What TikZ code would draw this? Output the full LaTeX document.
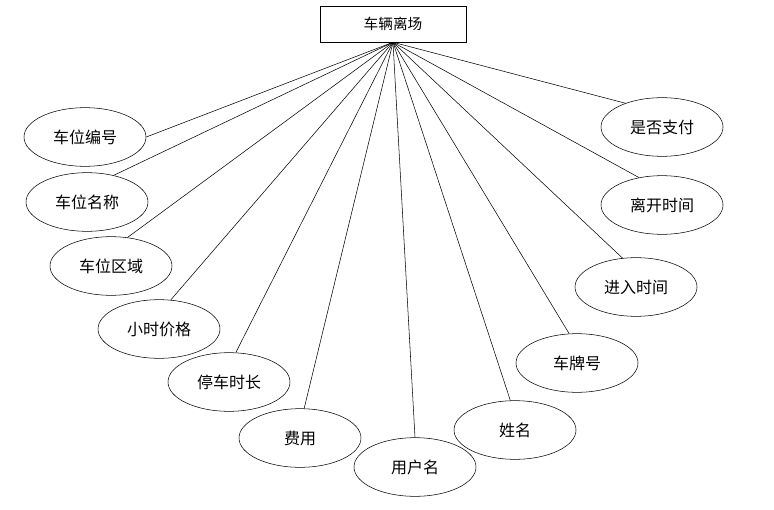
\documentclass[tikz,border=0pt]{standalone}
\usepackage{fontspec}
\newfontfamily\cjk{Noto Sans CJK SC}
\tikzset{
  attr/.style={draw,ellipse,minimum width=91.5pt,minimum height=44pt,inner sep=0pt,font=\cjk\fontsize{12}{14}\selectfont},
  entity/.style={draw,rectangle,minimum width=109.5pt,minimum height=27pt,inner sep=0pt,font=\cjk\fontsize{11}{13}\selectfont}
}
\usetikzlibrary{shapes.geometric}
\begin{document}
\begin{tikzpicture}[x=0.75pt,y=-0.75pt]
        \useasboundingbox (0,0) rectangle (774,510);
        \node[entity] (car) at (393,24) {车辆离场};
        \node[attr] (pno) at (85,137) {车位编号};
        \node[attr] (pname) at (87,202) {车位名称};
        \node[attr] (parea) at (111,266) {车位区域};
        \node[attr] (price) at (159,329) {小时价格};
        \node[attr] (dur) at (229,382) {停车时长};
        \node[attr] (fee) at (300,438) {费用};
        \node[attr] (user) at (415,467) {用户名};
        \node[attr] (name) at (515,430) {姓名};
        \node[attr] (plate) at (577,363) {车牌号};
        \node[attr] (tin) at (636,287) {进入时间};
        \node[attr] (tout) at (662,205) {离开时间};
        \node[attr] (paid) at (662,127) {是否支付};
        \draw (car.south) -- (pno.0);
        \draw (car.south) -- (pname.45);
        \draw (car.south) -- (parea.60);
        \draw (car.south) -- (price.68);
        \draw (car.south) -- (dur.77);
        \draw (car.south) -- (fee.82);
        \draw (car.south) -- (user.90);
        \draw (car.south) -- (name.99);
        \draw (car.south) -- (plate.105);
        \draw (car.south) -- (tin.115);
        \draw (car.south) -- (tout.130);
        \draw (car.south) -- (paid.147);
      \end{tikzpicture}
\end{document}
